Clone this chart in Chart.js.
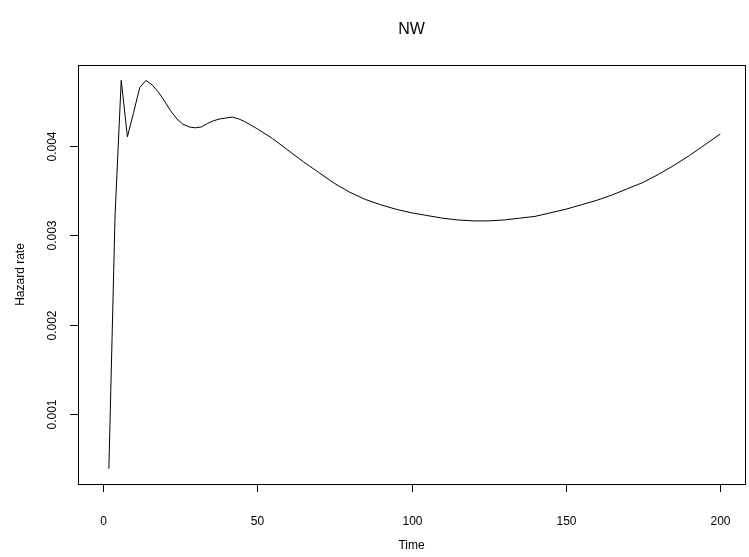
<!DOCTYPE html>
<html>
<head>
<meta charset="utf-8">
<script src="https://cdn.jsdelivr.net/npm/chart.js@4.4.1/dist/chart.umd.min.js"></script>
<style>
  body { margin: 0; background: #fff; }
  #wrap { width: 749px; height: 557px; }
</style>
</head>
<body>
<div id="wrap"><canvas id="hazardChart" width="749" height="557"></canvas></div>
<script>
// values
const timePoints = [2, 4, 6, 8, 10, 12, 14, 16, 18, 20, 22, 24, 26, 28, 30, 32, 34, 36, 38, 40,
    42, 44, 46, 48, 50, 55, 60, 65, 70, 75, 80, 85, 90, 95, 100, 105, 110, 115, 120, 125,
    130, 135, 140, 145, 150, 155, 160, 165, 170, 175, 180, 185, 190, 195, 200];
const hazardRate = [0.00039, 0.00322, 0.00473, 0.00410, 0.00437, 0.00465, 0.00473, 0.00468, 0.00460, 0.00450,
    0.00439, 0.00430, 0.00424, 0.00421, 0.00420, 0.00421, 0.00425, 0.00428, 0.00430, 0.00431,
    0.00432, 0.00430, 0.00427, 0.00423, 0.00419, 0.00408, 0.00395, 0.00382, 0.00370, 0.00358,
    0.00348, 0.00340, 0.00334, 0.00329, 0.00325, 0.00322, 0.00319, 0.00317, 0.00316, 0.00316,
    0.00317, 0.00319, 0.00321, 0.00325, 0.00329, 0.00334, 0.00339, 0.00345, 0.00352, 0.00359,
    0.00368, 0.00378, 0.00389, 0.00401, 0.00413];
const xTicks = [0, 50, 100, 150, 200];
const yTicks = [0.001, 0.002, 0.003, 0.004];
const yTickLabels = ['0.001', '0.002', '0.003', '0.004'];

const FONT = '"Liberation Sans", Arial, sans-serif';

// R-style box, axes and titles drawn from the chart's own scales
const rAxes = {
    id: 'rAxes',
    afterDraw(chart) {
        const ctx = chart.ctx;
        const a = chart.chartArea;
        const xs = chart.scales.x, ys = chart.scales.y;
        ctx.save();
        ctx.strokeStyle = '#000';
        ctx.lineWidth = 1;
        ctx.strokeRect(Math.round(a.left) + 0.5, Math.round(a.top) + 0.5,
            Math.round(a.right - a.left), Math.round(a.bottom - a.top));

        ctx.fillStyle = '#000';
        ctx.font = '12px ' + FONT;
        // x axis
        ctx.textAlign = 'center';
        ctx.textBaseline = 'middle';
        xTicks.forEach(v => {
            const px = Math.round(xs.getPixelForValue(v)) + 0.5;
            ctx.beginPath();
            ctx.moveTo(px, a.bottom);
            ctx.lineTo(px, a.bottom + 8);
            ctx.stroke();
            ctx.fillText(String(v), px, a.bottom + 38);
        });
        // y axis
        yTicks.forEach((v, i) => {
            const py = Math.round(ys.getPixelForValue(v)) + 0.5;
            ctx.beginPath();
            ctx.moveTo(a.left, py);
            ctx.lineTo(a.left - 8, py);
            ctx.stroke();
            ctx.save();
            ctx.translate(a.left - 25, py);
            ctx.rotate(-Math.PI / 2);
            ctx.fillText(yTickLabels[i], 0, 0);
            ctx.restore();
        });
        // axis titles
        ctx.fillText('Time', (a.left + a.right) / 2, a.bottom + 62);
        ctx.save();
        ctx.translate(21, (a.top + a.bottom) / 2);
        ctx.rotate(-Math.PI / 2);
        ctx.fillText('Hazard rate', 0, 0);
        ctx.restore();
        // main title
        ctx.font = '16px ' + FONT;
        ctx.fillText('NW', (a.left + a.right) / 2, 30);
        ctx.restore();
    }
};

new Chart(document.getElementById('hazardChart'), {
    type: 'line',
    data: {
        datasets: [{
            label: 'NW',
            data: timePoints.map((t, i) => ({ x: t, y: hazardRate[i] })),
            borderColor: '#000',
            borderWidth: 1,
            pointRadius: 0,
            tension: 0,
            fill: false
        }]
    },
    options: {
        responsive: false,
        animation: false,
        layout: { padding: { left: 78, top: 65, right: 4, bottom: 73 } },
        plugins: { legend: { display: false }, tooltip: { enabled: false } },
        scales: {
            x: { type: 'linear', display: false, min: -8, max: 208 },
            y: { type: 'linear', display: false, min: 0.000219, max: 0.004902 }
        }
    },
    plugins: [rAxes]
});
</script>
</body>
</html>
